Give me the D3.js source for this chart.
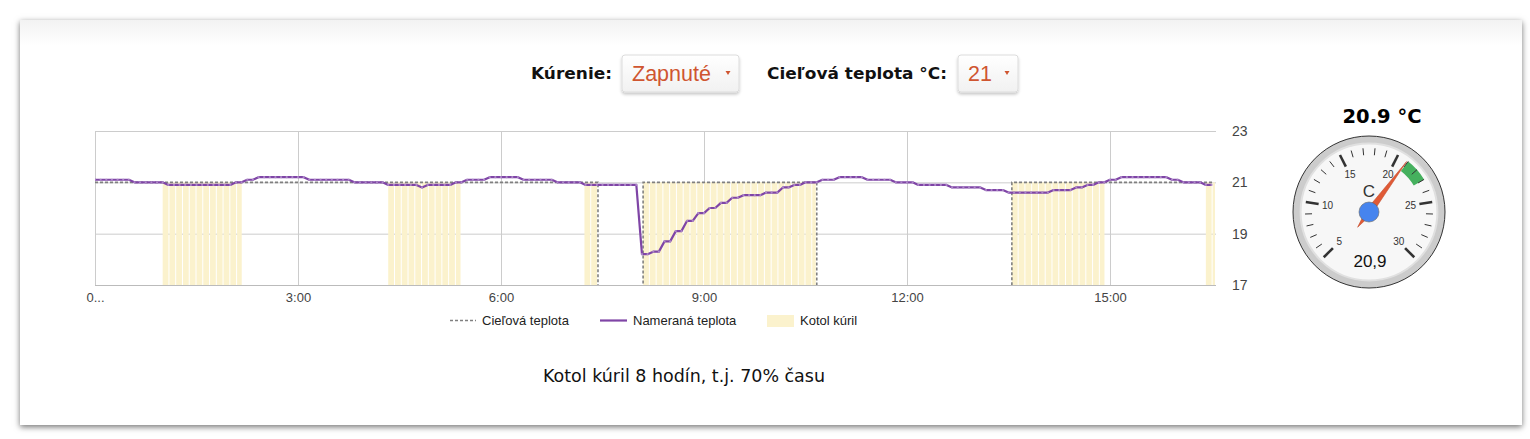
<!DOCTYPE html>
<html><head><meta charset="utf-8">
<script src="https://cdn.jsdelivr.net/npm/d3@7"></script>
<style>
body{margin:0;background:#fff;width:1530px;height:439px;overflow:hidden;position:relative}
#card{position:absolute;left:20px;top:20px;width:1502px;height:405px;background:linear-gradient(#f2f2f2,#fff 26px);box-shadow:0 2px 6px rgba(0,0,0,0.55);}
svg{position:absolute;left:0;top:0}
</style></head><body><div id="card"></div><svg id="c" width="1530" height="439"></svg>
<script>
// ---- data ----
const xTickHours = [0, 3, 6, 9, 12, 15];
const xTickLabels = ["0...", "3:00", "6:00", "9:00", "12:00", "15:00"];
const yTicks = [17, 19, 21, 23];
const measuredStepMin = 5;
const measured = [
  21.1, 21.1, 21.1, 21.1, 21.1, 21.1, 21.1, 21.0, 21.0, 21.0,
  21.0, 21.0, 21.0, 20.9, 20.9, 20.9, 20.9, 20.9, 20.9, 20.9,
  20.9, 20.9, 20.9, 20.9, 20.9, 21.0, 21.0, 21.1, 21.1, 21.2,
  21.2, 21.2, 21.2, 21.2, 21.2, 21.2, 21.2, 21.2, 21.1, 21.1,
  21.1, 21.1, 21.1, 21.1, 21.1, 21.1, 21.0, 21.0, 21.0, 21.0,
  21.0, 21.0, 20.9, 20.9, 20.9, 20.9, 20.9, 20.9, 20.8, 20.9,
  20.9, 20.9, 20.9, 20.9, 21.0, 21.0, 21.1, 21.1, 21.1, 21.1,
  21.2, 21.2, 21.2, 21.2, 21.2, 21.2, 21.1, 21.1, 21.1, 21.1,
  21.1, 21.1, 21.0, 21.0, 21.0, 21.0, 21.0, 20.9, 20.9, 20.9,
  20.9, 20.9, 20.9, 20.9, 20.9, 20.9, 20.9, 18.2, 18.2, 18.3,
  18.3, 18.7, 18.7, 19.1, 19.1, 19.5, 19.5, 19.8, 19.8, 20.0,
  20.0, 20.2, 20.2, 20.4, 20.4, 20.5, 20.5, 20.5, 20.5, 20.6,
  20.6, 20.6, 20.8, 20.8, 20.9, 20.9, 21.0, 21.0, 21.0, 21.1,
  21.1, 21.1, 21.2, 21.2, 21.2, 21.2, 21.2, 21.1, 21.1, 21.1,
  21.1, 21.1, 21.0, 21.0, 21.0, 21.0, 20.9, 20.9, 20.9, 20.9,
  20.9, 20.9, 20.8, 20.8, 20.8, 20.8, 20.8, 20.8, 20.7, 20.7,
  20.7, 20.7, 20.6, 20.6, 20.6, 20.6, 20.6, 20.6, 20.6, 20.6,
  20.7, 20.7, 20.7, 20.7, 20.8, 20.8, 20.9, 20.9, 21.0, 21.0,
  21.1, 21.1, 21.2, 21.2, 21.2, 21.2, 21.2, 21.2, 21.2, 21.2,
  21.2, 21.1, 21.1, 21.0, 21.0, 21.0, 21.0, 20.9, 20.9
];
const targetTimes = ["0:00", "7:26", "8:06", "10:40", "13:33", "16:31"];
const targetValues = [21, 15, 21, 15, 21, 21];
const heatStart = ["1:00", "4:20", "7:14", "8:06", "13:33", "16:25"];
const heatEnd   = ["2:11", "5:25", "7:26", "10:40", "14:56", "16:34"];
const heatLevel = 21;
const legendLabels = ["Cieľová teplota", "Nameraná teplota", "Kotol kúril"];
const gaugeValue = 20.9;
const gaugeMin = 5, gaugeMax = 30;
const gaugeMajor = [5, 10, 15, 20, 25, 30];
const gaugeGreen = [21, 23];

// ---- helpers ----
const toMin = s => { const [h, m] = s.split(":").map(Number); return h * 60 + m; };
const svg = d3.select("#c");
const F_V = "'DejaVu Sans', Verdana, sans-serif";
const F_A = "'Liberation Sans', Arial, sans-serif";

const defs = svg.append("defs");
const g1 = defs.append("linearGradient").attr("id", "btn").attr("x1", 0).attr("y1", 0).attr("x2", 0).attr("y2", 1);
g1.append("stop").attr("offset", "0%").attr("stop-color", "#ffffff");
g1.append("stop").attr("offset", "100%").attr("stop-color", "#f1f1f1");
const fl = defs.append("filter").attr("id", "sh").attr("x", "-10%").attr("y", "-20%").attr("width", "120%").attr("height", "150%");
fl.append("feDropShadow").attr("dx", 0).attr("dy", 2).attr("stdDeviation", 1.5).attr("flood-color", "#000").attr("flood-opacity", 0.22);
defs.append("clipPath").attr("id", "plot").append("rect").attr("x", 95).attr("y", 131).attr("width", 1121).attr("height", 154);

// ---- controls ----
function control(label, labelLeft, labelW, bx, bw, value) {
  svg.append("text").attr("x", labelLeft).attr("y", 79)
    .attr("font-family", F_V).attr("font-weight", "bold").attr("font-size", 16).attr("fill", "#111")
    .attr("textLength", labelW).attr("lengthAdjust", "spacingAndGlyphs").text(label);
  svg.append("rect").attr("x", bx).attr("y", 55).attr("width", bw).attr("height", 37).attr("rx", 3)
    .attr("fill", "url(#btn)").attr("stroke", "#dcdcdc").attr("filter", "url(#sh)");
  svg.append("text").attr("x", bx + 10).attr("y", 81).attr("font-family", F_A).attr("font-size", 21.5)
    .attr("fill", "#cf5530").text(value);
  const ax = bx + bw - 11, ay = 71;
  svg.append("path").attr("d", `M${ax - 2.5},${ay}L${ax + 2.5},${ay}L${ax},${ay + 4}Z`).attr("fill", "#cf5530");
}
control("Kúrenie:", 531, 81, 622, 117, "Zapnuté");
control("Cieľová teplota °C:", 767, 180, 958, 60, "21");

// ---- chart ----
const x = d3.scaleLinear().domain([0, 994]).range([95, 1216]);
const y = d3.scaleLinear().domain([17, 23]).range([285, 131]);

// gridlines
svg.append("g").attr("transform", "translate(0,285)")
  .call(d3.axisBottom(x).tickValues(xTickHours.map(h => h * 60)).tickSize(-154).tickFormat(""))
  .call(g => { g.select(".domain").remove(); g.selectAll("line").attr("stroke", "#cccccc"); });
svg.append("g").attr("transform", "translate(95,0)")
  .call(d3.axisLeft(y).tickValues(yTicks).tickSize(-1121).tickFormat(""))
  .call(g => { g.select(".domain").remove(); g.selectAll("line").attr("stroke", "#cccccc"); });

// heating bars
const plot = svg.append("g").attr("clip-path", "url(#plot)");
heatStart.forEach((s, i) => {
  const a = toMin(s), b = toMin(heatEnd[i]);
  d3.range(a, b, 6).forEach(t => {
    const x0 = x(t), x1 = x(Math.min(t + 6, b));
    plot.append("rect").attr("x", x0).attr("y", y(heatLevel)).attr("width", Math.max(0.5, x1 - x0 - 1))
      .attr("height", y(17) - y(heatLevel)).attr("fill", "#fbf2cd");
  });
});

svg.append("line").attr("x1", 95).attr("x2", 1216).attr("y1", 285.5).attr("y2", 285.5).attr("stroke", "#bbbbbb");

// target
const tData = targetTimes.map((s, i) => [toMin(s), targetValues[i]]);
plot.append("path").datum(tData)
  .attr("d", d3.line().x(d => x(d[0])).y(d => y(d[1])).curve(d3.curveStepAfter))
  .attr("fill", "none").attr("stroke", "#808080").attr("stroke-width", 1.6).attr("stroke-dasharray", "3,2");

// measured
const mData = measured.map((v, i) => [i * measuredStepMin, v]);
plot.append("path").datum(mData)
  .attr("d", d3.line().x(d => x(d[0])).y(d => y(d[1])))
  .attr("fill", "none").attr("stroke", "#7f45a6").attr("stroke-width", 2.2).attr("stroke-linejoin", "round");
plot.selectAll("circle.m").data(mData).join("circle").attr("class", "m")
  .attr("cx", d => x(d[0])).attr("cy", d => y(d[1])).attr("r", 1.1).attr("fill", "#ad88c9");

// axes labels
svg.append("g").attr("transform", "translate(0,290)")
  .call(d3.axisBottom(x).tickValues(xTickHours.map(h => h * 60)).tickSize(0).tickFormat((d, i) => xTickLabels[i]))
  .call(g => { g.select(".domain").remove();
    g.selectAll("text").attr("font-family", F_A).attr("font-size", 13).attr("fill", "#444"); });
svg.append("g").attr("transform", "translate(1216,0)")
  .call(d3.axisRight(y).tickValues(yTicks).tickSize(0).tickPadding(16).tickFormat(d3.format("d")))
  .call(g => { g.select(".domain").remove();
    g.selectAll("text").attr("font-family", F_A).attr("font-size", 14).attr("fill", "#444"); });

// legend
const lg = svg.append("g").attr("font-family", F_A).attr("font-size", 13).attr("fill", "#222");
lg.append("line").attr("x1", 450).attr("x2", 476).attr("y1", 320.5).attr("y2", 320.5)
  .attr("stroke", "#808080").attr("stroke-width", 1.5).attr("stroke-dasharray", "3,2");
lg.append("text").attr("x", 482).attr("y", 325).text(legendLabels[0]);
lg.append("line").attr("x1", 600).attr("x2", 627).attr("y1", 320.5).attr("y2", 320.5)
  .attr("stroke", "#7f45a6").attr("stroke-width", 2.2);
lg.append("text").attr("x", 633).attr("y", 325).text(legendLabels[1]);
lg.append("rect").attr("x", 767).attr("y", 315).attr("width", 27).attr("height", 12).attr("fill", "#fbf2cd");
lg.append("text").attr("x", 800).attr("y", 325).text(legendLabels[2]);

// summary
svg.append("text").attr("x", 684).attr("y", 382).attr("text-anchor", "middle")
  .attr("font-family", F_V).attr("font-size", 17).attr("fill", "#111")
  .attr("textLength", 282).attr("lengthAdjust", "spacingAndGlyphs").text("Kotol kúril 8 hodín, t.j. 70% času");

// ---- gauge ----
const cx = 1369, cy = 212, R = 76;
svg.append("text").attr("x", 1382).attr("y", 123).attr("text-anchor", "middle")
  .attr("font-family", F_V).attr("font-weight", "bold").attr("font-size", 19).attr("fill", "#000")
  .attr("textLength", 79).attr("lengthAdjust", "spacingAndGlyphs")
  .text(d3.format(".1f")(gaugeValue) + " °C");
const gg = svg.append("g").attr("transform", `translate(${cx},${cy})`);
const ang = d3.scaleLinear().domain([gaugeMin, gaugeMax]).range([-135, 135]);
const rad = d => ang(d) * Math.PI / 180;
const pt = (v, r) => [r * Math.sin(rad(v)), -r * Math.cos(rad(v))];
gg.append("circle").attr("r", R).attr("fill", "#cccccc").attr("stroke", "#333").attr("stroke-width", 1);
gg.append("circle").attr("r", R * 0.9).attr("fill", "#f7f7f7").attr("stroke", "#e0e0e0").attr("stroke-width", 2);
gg.append("path").attr("d", d3.arc().innerRadius(52).outerRadius(64)
  .startAngle(rad(gaugeGreen[0])).endAngle(rad(gaugeGreen[1]))()).attr("fill", "#45b05e");
d3.range(gaugeMin, gaugeMax + 0.001, 1).forEach(v => {
  const major = gaugeMajor.includes(v);
  const a = pt(v, major ? 51 : 57), b = pt(v, 64);
  gg.append("line").attr("x1", a[0]).attr("y1", a[1]).attr("x2", b[0]).attr("y2", b[1])
    .attr("stroke", "#333").attr("stroke-width", major ? 2.6 : 1);
});
gaugeMajor.forEach(v => {
  const p = pt(v, 42);
  gg.append("text").attr("x", p[0]).attr("y", p[1] + 3.5).attr("text-anchor", "middle")
    .attr("font-family", F_A).attr("font-size", 10).attr("fill", "#333").text(v);
});
gg.append("text").attr("x", 0).attr("y", -15).attr("text-anchor", "middle")
  .attr("font-family", F_A).attr("font-size", 17).attr("fill", "#333").text("C");
gg.append("text").attr("x", 1).attr("y", 55).attr("text-anchor", "middle")
  .attr("font-family", F_A).attr("font-size", 17).attr("fill", "#111").text(d3.format(".1f")(gaugeValue).replace(".", ","));
// needle
const tip = pt(gaugeValue, 63), tail = pt(gaugeValue, -19);
const perpA = rad(gaugeValue) + Math.PI / 2;
const w = 3.4;
const s1 = [w * Math.sin(perpA), -w * Math.cos(perpA)];
gg.append("path").attr("d", `M${tail[0]},${tail[1]}L${s1[0]},${s1[1]}L${tip[0]},${tip[1]}L${-s1[0]},${-s1[1]}Z`)
  .attr("fill", "#e05a36").attr("stroke", "#c4492a").attr("stroke-width", 0.6);
gg.append("circle").attr("r", 10).attr("fill", "#4684ee").attr("stroke", "#666").attr("stroke-width", 0.6);
</script></body></html>
